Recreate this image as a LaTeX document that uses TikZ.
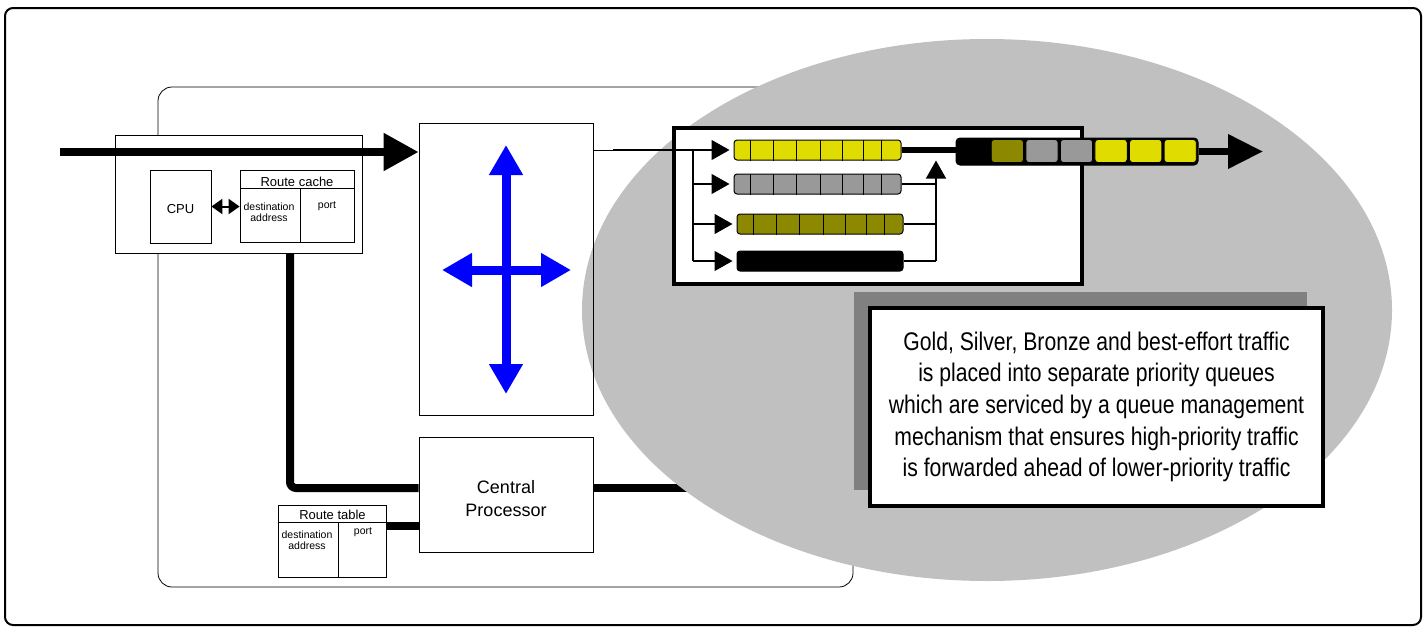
\documentclass[tikz,border=0pt]{standalone}
\usepackage{fontspec}
\setmainfont{Liberation Sans}
\newfontfamily\narrowfont[FakeStretch=0.83]{Liberation Sans}
\usetikzlibrary{arrows.meta,positioning,calc,shadows}

\definecolor{qgold}{RGB}{224,220,0}
\definecolor{qsilver}{RGB}{153,153,153}
\definecolor{qbronze}{RGB}{140,136,0}
\definecolor{bubble}{RGB}{192,192,192}
\definecolor{shade}{RGB}{128,128,128}
\definecolor{fabricblue}{RGB}{0,0,255}

\pgfdeclarelayer{bg}
\pgfsetlayers{bg,main}

\begin{document}
\begin{tikzpicture}[x=1pt, y=-1pt,
  box/.style={draw, fill=white, line width=0.8pt, inner sep=0pt},
  lbl/.style={inner sep=0pt, align=center},
  bus/.style={line width=8pt},
  wire/.style={line width=1.3pt},
  fat/.style={-{Triangle[length=35pt,width=36pt]}, line width=8pt},
  tip/.style={-{Triangle[length=18pt,width=20pt]}, line width=1.3pt},
  queue/.style={draw, rounded corners=3pt, line width=1pt, inner sep=0pt, minimum height=20pt},
  cross/.style={{Triangle[length=30pt,width=32pt]}-{Triangle[length=30pt,width=32pt]}, line width=9pt, fabricblue}
]
\useasboundingbox (0,0) rectangle (1426,629);

% line card with CPU and route cache
\node[box, minimum width=247pt, minimum height=118pt] (card) at (238.5,194) {};
\node[box, minimum width=61pt, minimum height=73pt] (cpu) at (180.5,206.5) {};
\node[lbl, font=\fontsize{13}{15}\selectfont] (cputxt) at (180.5,209) {CPU};
\node[box, minimum width=114pt, minimum height=72pt] (cache) at (297,206) {};
\draw[line width=0.8pt] ([yshift=-19pt]cache.north west) -- ([yshift=-19pt]cache.north east);
\draw[line width=0.8pt] ([xshift=3pt,yshift=-19pt]cache.north) -- ([xshift=3pt]cache.south);
\node[lbl, font=\fontsize{13}{15}\selectfont] (cachehd) at ([yshift=-12pt]cache.north) {Route cache};
\node[lbl, font=\fontsize{10.5}{11}\selectfont] (cachedst) at (269,212) {destination\\address};
\node[lbl, font=\fontsize{10.5}{11}\selectfont] (cacheport) at (327,206) {port};
\draw[{Triangle[length=11pt,width=15pt]}-{Triangle[length=11pt,width=15pt]}, line width=2pt] (cpu.east) -- (cpu.east -| cache.west);

% route table
\node[box, minimum width=108pt, minimum height=72pt] (rt) at (332.5,541) {};
\draw[line width=0.8pt] ([yshift=-18pt]rt.north west) -- ([yshift=-18pt]rt.north east);
\draw[line width=0.8pt] ([xshift=5.5pt,yshift=-18pt]rt.north) -- ([xshift=5.5pt]rt.south);
\node[lbl, font=\fontsize{13}{15}\selectfont] (rthd) at ([yshift=-10pt]rt.north) {Route table};
\node[lbl, font=\fontsize{10.5}{11}\selectfont] (rtdst) at (307,540) {destination\\address};
\node[lbl, font=\fontsize{10.5}{11}\selectfont] (rtport) at (363,532) {port};

% switch fabric and central processor
\node[draw, line width=0.8pt, minimum width=174pt, minimum height=292pt] (fabric) at (506,269) {};
\node[box, minimum width=174pt, minimum height=115pt] (cp) at (506,494.5) {};
\node[lbl, font=\fontsize{18}{23}\selectfont] (cptxt) at (506,499) {Central\\Processor};

\begin{pgfonlayer}{bg}
\draw[line width=2pt, rounded corners=8pt] (5,8) rectangle (1421,625);
\draw[line width=0.8pt, rounded corners=14pt] (158,87) rectangle (853,587);
\coordinate (tap) at (290,253);
\draw[bus, rounded corners=6pt] (tap) |- ([yshift=6.5pt]cp.west);
\coordinate (cpfeed) at (700,488);
\draw[bus] ([yshift=6.5pt]cp.east) -- (cpfeed);
\coordinate (rtlink) at ([yshift=15pt]rt.east);
\draw[bus] (rtlink) -- (rtlink -| cp.west);
\fill[bubble] (987,310) ellipse [x radius=405pt, y radius=271pt];
\end{pgfonlayer}

% incoming traffic
\coordinate (src) at (60,152);
\draw[fat] (src) -- (src -| fabric.west);
\draw[cross] ([yshift=124pt]fabric.center) -- ([yshift=-125pt]fabric.center);
\draw[cross] ([xshift=-64pt,yshift=-1pt]fabric.center) -- ([xshift=65pt,yshift=-1pt]fabric.center);

% priority queues
\node[draw, fill=white, line width=4pt, minimum width=408pt, minimum height=156pt] (qbox) at (878,206) {};
\node[queue, fill=qgold, minimum width=167pt] (gold) at (817.5,150) {};
\node[queue, fill=qsilver, minimum width=167pt] (silver) at (817.5,184) {};
\node[queue, fill=qbronze, minimum width=166pt] (bronze) at (820,224) {};
\node[queue, fill=black, minimum width=166pt] (best) at (820,261) {};
\foreach \q in {gold,silver,bronze}
  \foreach \d in {17,40,63,87,109,130,148}
    \draw[line width=1pt] ([xshift=\d pt]\q.north west) -- ([xshift=\d pt]\q.south west);

\coordinate (fork) at (693,150);
\coordinate (fabout) at (fabric.north east |- fork);
\draw[line width=0.8pt] (fabout) -- ++(20,0) coordinate (split);
\draw[tip, shorten >=4pt] (split) -- (split -| gold.west);
\draw[wire] (fork) -- (fork |- best.west);
\foreach \q in {silver,bronze,best}
  \draw[tip, shorten >=4pt] (fork |- \q.west) -- (\q.west);

\coordinate (join) at (936,150);
\foreach \q in {silver,bronze,best}
  \draw[wire] (\q.east) -- (\q.east -| join);
\draw[tip] (join |- best.east) -- (join |- gold.south);

% scheduled output
\node[draw, fill=black, rounded corners=4pt, line width=1pt, inner sep=0pt, minimum width=242pt, minimum height=27pt] (outq) at (1077,151.5) {};
\foreach \c [count=\i from 0] in {black,qbronze,qsilver,qsilver,qgold,qgold,qgold}
  \draw[fill=\c, line width=0.8pt, rounded corners=3pt] ($(outq.north west)+(\i*34.57+1.2,2)$) rectangle +(32.2,23);
\draw[line width=6pt] (gold.east) -- (gold.east -| outq.west);
\coordinate (sink) at (1263,151.5);
\draw[-{Triangle[length=35pt,width=33pt]}, line width=7pt] (outq.east) -- (sink);

% explanation
\node[draw, fill=white, line width=4pt, minimum width=453pt, minimum height=198pt, align=center,
  drop shadow={opacity=1, fill=shade, shadow xshift=-16pt, shadow yshift=16pt},
  font=\narrowfont\fontsize{25.5}{31.7}\selectfont] (note) at (1096.5,407) {Gold, Silver, Bronze and best-effort traffic\\is placed into separate priority queues\\which are serviced by a queue management\\mechanism that ensures high-priority traffic\\is forwarded ahead of lower-priority traffic};
\end{tikzpicture}
\end{document}
